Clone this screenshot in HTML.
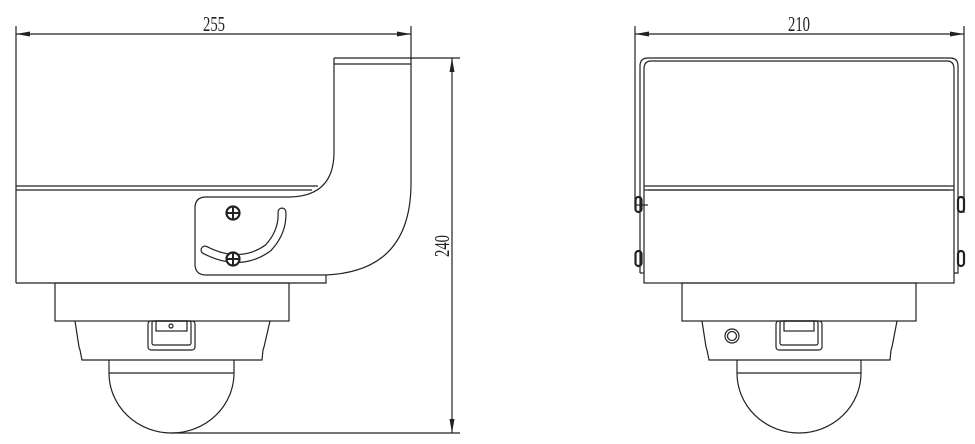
<!DOCTYPE html>
<html><head><meta charset="utf-8"><style>
html,body{margin:0;padding:0;background:#fff;}
svg{display:block;}
text{font-family:"Liberation Serif",serif;fill:#222;}
</style></head><body>
<svg width="975" height="444" viewBox="0 0 975 444" xmlns="http://www.w3.org/2000/svg">
<g fill="none" stroke="#222" stroke-width="1.2">
<line x1="16" y1="26" x2="16" y2="283"/>
<line x1="411" y1="26" x2="411" y2="60"/>
<line x1="16" y1="34" x2="411" y2="34"/>
<line x1="16" y1="186" x2="318" y2="186"/>
<line x1="16" y1="190" x2="312" y2="190"/>
<line x1="334" y1="58" x2="460" y2="58"/>
<line x1="334" y1="64" x2="411" y2="64"/>
<path d="M334 58 V152 Q334 196 290 197 H206 Q195 197 195 208 V264 Q195 275 206 275 H325 Q411 272 411 183 V58"/>
<path d="M16 283 H326 V275"/>
<circle cx="233" cy="213" r="6.5" stroke-width="2.2"/>
<line x1="226.5" y1="213" x2="239.5" y2="213" stroke-width="2"/>
<line x1="233" y1="206.5" x2="233" y2="219.5" stroke-width="2"/>
<path d="M205 250 Q240 268 268 248 Q283 232 282 212" stroke-width="9" stroke-linecap="round"/>
<path d="M205 250 Q240 268 268 248 Q283 232 282 212" stroke="#fff" stroke-width="6.6" stroke-linecap="round"/>
<circle cx="233" cy="259" r="6.5" stroke-width="2.2" fill="#fff"/>
<line x1="226.5" y1="259" x2="239.5" y2="259" stroke-width="2"/>
<line x1="233" y1="252.5" x2="233" y2="265.5" stroke-width="2"/>
<rect x="55" y="283" width="234" height="38"/>
<path d="M75 321 L79 347 L80 350 L82 360 H262 L263 350 L264 347 L270 321"/>
<rect x="148" y="321" width="47" height="29" rx="3"/>
<rect x="152" y="321" width="39" height="24" rx="2"/>
<rect x="156" y="321" width="31" height="10"/>
<circle cx="171" cy="326" r="2" />
<path d="M109 360 V373 A62.5 60 0 0 0 234 373 V360"/>
<line x1="109" y1="373" x2="234" y2="373"/>
<line x1="171" y1="433" x2="460" y2="433"/>
<line x1="452" y1="58" x2="452" y2="433"/>
<line x1="635" y1="26" x2="635" y2="205"/>
<line x1="964" y1="26" x2="964" y2="213"/>
<line x1="635" y1="34" x2="964" y2="34"/>
<path d="M640 273 V66 Q640 58 648 58 H950 Q958 58 958 66 V273 H954"/>
<path d="M644 150 V69 Q644 61 651 61 H947 Q954 61 954 69 V150"/>
<path d="M640 273 H644"/>
<line x1="644" y1="150" x2="644" y2="190"/>
<line x1="644" y1="186" x2="954" y2="186"/>
<line x1="648" y1="190" x2="950" y2="190"/>
<rect x="644" y="190" width="310" height="93"/>
<line x1="954" y1="150" x2="954" y2="190"/>
<rect x="635.5" y="197" width="6" height="15" rx="3" stroke-width="2.2"/>
<rect x="635.5" y="251" width="6" height="15" rx="3" stroke-width="2.2"/>
<rect x="958" y="197" width="6" height="15" rx="3" stroke-width="2.2"/>
<rect x="958" y="251" width="6" height="15" rx="3" stroke-width="2.2"/>
<line x1="636" y1="205" x2="648" y2="205"/>
<rect x="682" y="283" width="234" height="38"/>
<path d="M702 321 L706 347 L707 350 L709 360 H890 L891 350 L892 347 L897 321"/>
<circle cx="732" cy="336" r="7"/>
<circle cx="732" cy="336" r="4.5"/>
<rect x="776" y="321" width="46" height="29" rx="3"/>
<rect x="780" y="321" width="38" height="24" rx="2"/>
<rect x="784" y="321" width="30" height="10"/>
<path d="M737 360 V373 A62 60 0 0 0 861 373 V360"/>
<line x1="737" y1="373" x2="861" y2="373"/>
</g>
<g fill="#222">
<polygon points="16,34 30,31.5 30,36.5"/>
<polygon points="411,34 397,31.5 397,36.5"/>
<polygon points="635,34 649,31.5 649,36.5"/>
<polygon points="964,34 950,31.5 950,36.5"/>
<polygon points="452,58 449.5,72 454.5,72"/>
<polygon points="452,433 449.5,419 454.5,419"/>
</g>
<text x="0" y="0" font-size="15" text-anchor="middle" textLength="22" lengthAdjust="spacingAndGlyphs" transform="translate(214,31) scale(1,1.4)">255</text>
<text x="0" y="0" font-size="15" text-anchor="middle" textLength="22" lengthAdjust="spacingAndGlyphs" transform="translate(799,31) scale(1,1.4)">210</text>
<text x="0" y="0" font-size="15" text-anchor="middle" textLength="22" lengthAdjust="spacingAndGlyphs" transform="translate(449,246) rotate(-90) scale(1,1.4)">240</text>
</svg>
</body></html>
